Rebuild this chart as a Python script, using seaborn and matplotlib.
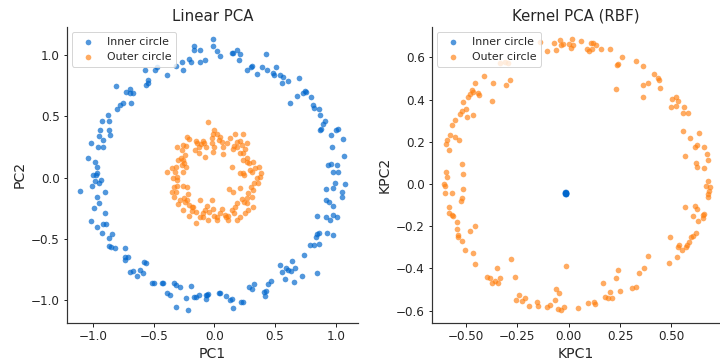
import matplotlib
matplotlib.use("Agg")
import matplotlib.pyplot as plt
import seaborn as sns
import numpy as np

sns.set_style("ticks")
plt.rcParams["font.family"] = ["DejaVu Sans"]

BLUE = "#0066cc"
ORANGE = "#ff7f0e"
labels = ["Inner circle", "Outer circle"]

# ---- Linear PCA: points labelled "Inner circle" (blue, radius ~1)
lin_inner = [
    (-0.17, 1.07), (-0.17, 1.04), (-0.12, 1.04), (-0.21, 0.965), (-0.19, 0.945), (-0.12, 0.945),
    (-0.08, 0.96), (-0.26, 0.88), (-0.32, 0.91), (-0.39, 0.84), (-0.49, 0.88), (-0.47, 0.90),
    (-0.57, 0.88), (-0.55, 0.80), (-0.55, 0.77), (-0.56, 0.755), (-0.81, 0.75), (-0.73, 0.70),
    (-0.695, 0.72), (-0.67, 0.69), (-0.695, 0.69), (-0.69, 0.61), (-0.75, 0.61), (-0.78, 0.59),
    (-0.80, 0.56), (-0.88, 0.51), (-0.93, 0.46), (-0.87, 0.46), (-0.94, 0.39), (-0.87, 0.39),
    (-0.86, 0.35), (-0.95, 0.34), (-0.915, 0.31), (-1.02, 0.285), (-0.915, 0.25), (-0.96, 0.25),
    (-1.04, 0.16), (-0.98, 0.13), (-0.97, 0.085), (-0.27, 0.945),
    (-0.01, 1.128), (-0.01, 1.07), (0.02, 1.035), (0.047, 0.99), (0.143, 1.02), (0.157, 1.02),
    (0.185, 1.04), (0.21, 1.005), (0.20, 0.96), (0.43, 1.01), (0.31, 0.91), (0.30, 0.90),
    (0.27, 0.88), (0.355, 0.845), (0.395, 0.905), (0.435, 0.88), (0.51, 0.90), (0.48, 0.85),
    (0.495, 0.84), (0.54, 0.84), (0.57, 0.82), (0.555, 0.775), (0.61, 0.79), (0.70, 0.81),
    (0.75, 0.71), (0.73, 0.69), (0.755, 0.70), (0.68, 0.67), (0.80, 0.655), (0.62, 0.61),
    (0.81, 0.59), (0.825, 0.565), (0.865, 0.56), (0.87, 0.51), (0.91, 0.465), (0.90, 0.44),
    (0.88, 0.40), (0.87, 0.39), (1.00, 0.39), (1.02, 0.40), (0.96, 0.35), (1.06, 0.315),
    (0.97, 0.25), (1.07, 0.18), (0.94, 0.10), (0.96, 0.11), (1.01, 0.105),
    (-1.00, 0.02), (-0.97, 0.035), (-0.975, 0.02), (-0.98, -0.025), (-0.95, -0.045),
    (-0.935, -0.02), (-1.01, -0.07), (-1.11, -0.11), (-0.905, -0.12), (-0.965, -0.16),
    (-0.95, -0.21), (-0.99, -0.25), (-0.905, -0.285), (-1.02, -0.35), (-0.97, -0.40),
    (-0.92, -0.38), (-0.89, -0.38), (-0.93, -0.45), (-0.845, -0.455), (-0.87, -0.49),
    (-0.865, -0.56), (-0.855, -0.565), (-0.82, -0.575), (-0.74, -0.575), (-0.735, -0.645),
    (-0.71, -0.65), (-0.735, -0.67), (-0.695, -0.77), (-0.67, -0.76), (-0.635, -0.80),
    (-0.61, -0.755), (-0.585, -0.78), (-0.58, -0.69), (-0.565, -0.695), (-0.51, -0.86),
    (-0.495, -0.86), (-0.435, -0.86), (-0.42, -0.86), (-0.33, -0.86), (-0.32, -0.875),
    (-0.28, -0.895), (-0.195, -0.88), (-0.39, -0.94), (-0.365, -0.96), (-0.23, -0.98),
    (-0.17, -0.975), (-0.15, -0.975), (-0.13, -0.955), (-0.07, -0.955), (-0.06, -0.96),
    (-0.065, -0.99), (-0.315, -1.05), (-0.22, -1.075),
    (0.98, 0.045), (1.02, 0.045), (0.995, -0.04), (0.98, -0.08), (0.92, -0.09), (1.08, -0.055),
    (1.05, -0.12), (1.05, -0.155), (0.92, -0.18), (0.945, -0.20), (0.98, -0.23), (0.845, -0.31),
    (0.92, -0.32), (0.955, -0.345), (0.98, -0.305), (1.01, -0.32), (0.845, -0.46), (0.84, -0.48),
    (0.86, -0.45), (0.93, -0.45), (0.975, -0.47), (0.79, -0.55), (0.825, -0.55), (0.86, -0.54),
    (0.74, -0.63), (0.64, -0.68), (0.54, -0.71), (0.59, -0.74), (0.61, -0.75), (0.555, -0.77),
    (0.63, -0.76), (0.665, -0.735), (0.58, -0.825), (0.66, -0.85), (0.725, -0.80), (0.845, -0.78),
    (0.47, -0.84), (0.445, -0.865), (0.33, -0.87), (0.285, -0.895), (0.31, -0.91), (0.41, -0.935),
    (0.43, -0.925), (0.42, -0.965), (-0.05, -0.95), (0.035, -0.94), (0.045, -0.94), (0.10, -0.965),
    (0.13, -1.00), (0.145, -0.99), (0.22, -1.01), (0.24, -1.015), (0.155, -1.06),
]

# ---- Linear PCA: points labelled "Outer circle" (orange, radius ~0.3)
lin_outer = [
    (-0.049, 0.457), (-0.228, 0.329), (-0.206, 0.313), (-0.151, 0.302), (-0.14, 0.285),
    (-0.096, 0.302), (-0.085, 0.285), (-0.113, 0.272), (-0.124, 0.253), (-0.022, 0.326),
    (-0.008, 0.353), (0.0, 0.389), (0.025, 0.353), (0.047, 0.329), (0.06, 0.293),
    (-0.022, 0.28), (-0.003, 0.253), (0.069, 0.247), (0.102, 0.28), (0.129, 0.321),
    (0.17, 0.356), (0.239, 0.353), (0.19, 0.293), (0.212, 0.302), (0.162, 0.258),
    (0.225, 0.266), (0.151, 0.231), (-0.261, 0.266), (-0.234, 0.258), (-0.31, 0.253),
    (-0.269, 0.226), (-0.277, 0.158), (-0.297, 0.144), (-0.261, 0.144), (-0.25, 0.122),
    (-0.269, 0.103), (-0.234, 0.09), (-0.316, 0.084), (-0.352, 0.076), (-0.387, 0.049),
    (-0.324, 0.049), (-0.261, 0.049), (-0.31, 0.008), (-0.305, -0.019), (-0.343, -0.005),
    (-0.332, -0.073), (-0.31, -0.068), (-0.316, -0.114), (-0.352, -0.114), (-0.261, -0.068),
    (-0.228, -0.079), (-0.214, -0.133), (-0.25, -0.168), (-0.242, -0.196), (-0.228, -0.182),
    (-0.206, -0.223), (-0.187, -0.236), (-0.187, -0.272), (-0.151, -0.277), (-0.151, -0.367),
    (-0.118, -0.318), (-0.096, -0.291), (-0.077, -0.264), (-0.063, -0.231), (-0.022, -0.182),
    (-0.041, -0.277), (-0.008, -0.258), (-0.003, -0.313), (0.025, -0.318), (0.047, -0.291),
    (0.06, -0.258), (0.088, -0.304), (0.096, -0.323), (0.115, -0.313), (0.143, -0.264),
    (0.162, -0.291), (0.17, -0.236), (0.19, -0.204), (0.225, -0.177), (0.245, -0.196),
    (0.272, -0.168), (0.266, -0.209), (0.28, -0.128), (0.308, -0.16), (0.321, -0.101),
    (0.299, -0.073), (0.327, -0.046), (0.363, -0.041), (0.349, -0.005), (0.376, 0.008),
    (0.382, 0.041), (0.368, 0.084), (0.335, 0.076), (0.308, 0.049), (0.294, 0.063),
    (0.288, 0.117), (0.316, 0.13), (0.272, 0.13), (0.272, 0.158), (0.239, 0.144),
    (0.212, 0.198), (0.239, 0.198), (0.253, 0.231), (0.143, 0.09), (0.212, 0.041),
    (0.245, 0.022), (0.124, -0.095), (0.151, -0.114), (0.212, -0.087), (-0.124, 0.198),
    (-0.077, 0.171), (-0.008, 0.212), (0.069, 0.193), (-0.159, 0.226), (-0.242, 0.185),
    (-0.069, 0.247), (0.19, 0.253), (0.266, 0.28), (0.041, 0.307), (-0.049, -0.345),
    (0.019, -0.345), (0.115, -0.345), (-0.091, -0.323), (-0.118, -0.182), (-0.173, -0.236),
    (-0.283, -0.182), (-0.332, -0.16), (-0.297, -0.215), (0.184, -0.345), (-0.206, -0.313),
    (-0.255, -0.264), (0.239, 0.035), (0.321, -0.236), (0.28, -0.264), (0.253, -0.291),
    (0.212, -0.318),
]

# ---- Kernel PCA: "Inner circle" collapses to a single spot
k_inner = [
    (-0.016, -0.045), (-0.012, -0.042), (-0.015, -0.040), (-0.019, -0.044), (-0.011, -0.047),
    (-0.015, -0.044), (-0.017, -0.040), (-0.013, -0.048), (-0.018, -0.047), (-0.014, -0.043),
]

# ---- Kernel PCA: "Outer circle" (orange ring)
k_outer = [
    (-0.042, 0.682), (-0.037, 0.659), (-0.072, 0.667), (-0.062, 0.635), (-0.107, 0.632),
    (0.003, 0.663), (0.015, 0.686), (0.02, 0.659), (0.01, 0.643), (0.06, 0.679),
    (0.088, 0.638), (0.109, 0.670), (0.12, 0.667), (0.131, 0.659), (0.112, 0.638),
    (0.10, 0.632), (0.156, 0.638), (0.201, 0.638), (0.258, 0.60), (0.242, 0.569),
    (0.234, 0.564), (0.328, 0.584), (0.363, 0.559), (0.417, 0.521), (0.436, 0.501),
    (0.441, 0.493), (0.445, 0.454), (0.388, 0.48), (0.363, 0.469), (0.363, 0.411),
    (0.229, 0.449), (0.502, 0.401), (0.523, 0.411), (0.534, 0.395), (0.497, 0.363),
    (0.523, 0.37), (0.562, 0.363), (0.558, 0.335), (0.583, 0.338), (0.555, 0.253),
    (0.636, 0.24), (0.591, 0.217), (0.623, 0.185), (0.615, 0.174), (0.659, 0.174),
    (0.672, 0.142), (0.566, 0.134), (0.68, 0.114), (0.62, 0.101), (0.623, 0.079),
    (0.66, 0.074), (-0.286, 0.493), (-0.305, 0.469), (-0.367, 0.48), (-0.375, 0.393),
    (-0.411, 0.513), (-0.456, 0.477), (-0.472, 0.445), (-0.465, 0.437), (-0.481, 0.427),
    (-0.44, 0.433), (-0.435, 0.422), (-0.492, 0.411), (-0.516, 0.39), (-0.50, 0.354),
    (-0.518, 0.347), (-0.529, 0.332), (-0.494, 0.319), (-0.468, 0.327), (-0.554, 0.303),
    (-0.57, 0.28), (-0.578, 0.232), (-0.554, 0.224), (-0.534, 0.209), (-0.594, 0.209),
    (-0.599, 0.19), (-0.583, 0.161), (-0.518, 0.095), (-0.294, 0.575), (-0.31, 0.58),
    (-0.335, 0.575), (-0.026, 0.663), (-0.14, 0.674),
    (-0.598, 0.055), (-0.594, 0.035), (-0.513, 0.047), (-0.607, -0.002), (-0.603, -0.008),
    (-0.603, -0.041), (-0.567, -0.044), (-0.513, -0.024), (-0.521, -0.068), (-0.525, -0.079),
    (-0.583, -0.11), (-0.582, -0.139), (-0.57, -0.147), (-0.562, -0.15), (-0.543, -0.179),
    (-0.546, -0.213), (-0.538, -0.242), (-0.541, -0.25), (-0.521, -0.269), (-0.481, -0.223),
    (-0.456, -0.199), (-0.505, -0.313), (-0.468, -0.325), (-0.456, -0.378), (-0.40, -0.441),
    (-0.383, -0.447), (-0.375, -0.471), (-0.359, -0.46), (-0.343, -0.471), (-0.335, -0.447),
    (-0.348, -0.398), (-0.281, -0.355), (-0.262, -0.441), (-0.257, -0.55), (-0.24, -0.526),
    (-0.229, -0.555), (-0.213, -0.542), (-0.192, -0.577), (-0.153, -0.558), (-0.148, -0.578),
    (-0.107, -0.584), (-0.091, -0.573), (-0.065, -0.551), (-0.062, -0.499), (-0.049, -0.517),
    (-0.051, -0.594), (-0.037, -0.596), (-0.023, -0.581), (-0.013, -0.387), (0.044, -0.586),
    (0.095, -0.562), (0.125, -0.558), (0.128, -0.569), (0.169, -0.469), (0.177, -0.537),
    (0.193, -0.542), (0.209, -0.539), (0.201, -0.513), (0.229, -0.447), (0.239, -0.408),
    (0.25, -0.507), (0.307, -0.494), (0.328, -0.487), (0.342, -0.423), (0.367, -0.397),
    (0.385, -0.34), (0.49, -0.376), (0.526, -0.344), (0.493, -0.25), (0.534, -0.297),
    (0.539, -0.289), (0.55, -0.313), (0.571, -0.297), (0.578, -0.289), (0.588, -0.276),
    (0.596, -0.25), (0.607, -0.245), (0.62, -0.234), (0.628, -0.175), (0.607, -0.15),
    (0.653, -0.163), (0.656, -0.147), (0.659, -0.141), (0.566, -0.107), (0.615, -0.103),
    (0.623, -0.118), (0.677, -0.06), (0.68, -0.049), (0.685, -0.033), (0.688, -0.013),
    (0.669, -0.008), (0.68, 0.014),
]

W, H = 720, 361
fig = plt.figure(figsize=(W / 72, H / 72), dpi=72)


def frac_box(x0, x1, y0, y1):
    return [x0 / W, 1 - y1 / H, (x1 - x0) / W, (y1 - y0) / H]


ax1 = fig.add_axes(frac_box(66.7, 358.3, 26.7, 322.7))
ax2 = fig.add_axes(frac_box(431.7, 719.3, 26.7, 322.7))


def draw(ax, inner, outer, title, xl, yl, xlim, ylim):
    a = np.array(inner)
    b = np.array(outer)
    sns.scatterplot(x=a[:, 0], y=a[:, 1], color=BLUE, s=32, alpha=0.68,
                    linewidth=0, label=labels[0], ax=ax)
    sns.scatterplot(x=b[:, 0], y=b[:, 1], color=ORANGE, s=32, alpha=0.65,
                    linewidth=0, label=labels[1], ax=ax)
    ax.set_xlim(*xlim)
    ax.set_ylim(*ylim)
    ax.set_title(title, fontsize=15, color="#262626")
    ax.set_xlabel(xl, fontsize=14, color="#262626")
    ax.set_ylabel(yl, fontsize=14, color="#262626")
    ax.tick_params(labelsize=12, length=3.5, width=1, colors="#262626")
    for sp in ("left", "bottom"):
        ax.spines[sp].set_linewidth(1.2)
        ax.spines[sp].set_color("#333333")
    ax.legend(loc="upper left", fontsize=11, frameon=True)
    sns.despine(ax=ax)


draw(ax1, lin_inner, lin_outer, "Linear PCA", "PC1", "PC2",
     (-1.217, 1.187), (-1.182, 1.231))
draw(ax2, k_inner, k_outer, "Kernel PCA (RBF)", "KPC1", "KPC2",
     (-0.667, 0.734), (-0.657, 0.745))
ax2.set_xticks([-0.5, -0.25, 0.0, 0.25, 0.5])

fig.savefig("out.png", dpi=72)
